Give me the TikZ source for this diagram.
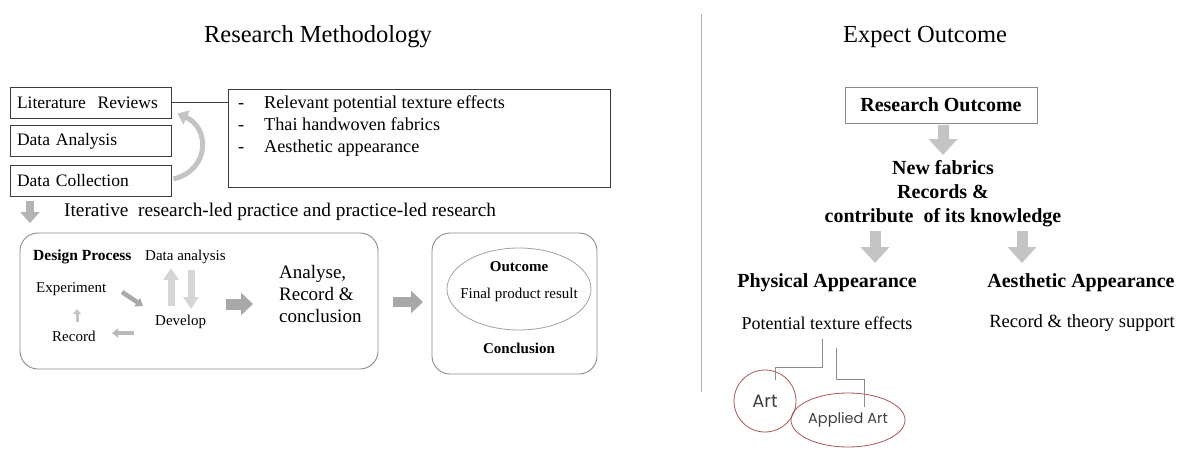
\documentclass[tikz,border=0pt]{standalone}
\usepackage{fontspec}
\setmainfont{Liberation Serif}
\newfontfamily\artfont{Poppins}
\usetikzlibrary{arrows.meta,shapes.geometric,calc}
\definecolor{agray}{HTML}{A8A8A8}
\definecolor{mgray}{HTML}{B4B4B4}
\definecolor{lgray}{HTML}{C4C4C4}
\definecolor{vlgray}{HTML}{D6D6D6}
\definecolor{boxline}{HTML}{3C3C3C}
\definecolor{rbox}{HTML}{8A8A8A}
\definecolor{artred}{HTML}{A85858}
\definecolor{linegray}{HTML}{8C8C8C}
\begin{document}
\begin{tikzpicture}[x=1pt,y=-1pt,
  title/.style={font=\fontsize{24.5}{28}\selectfont},
  body/.style={font=\fontsize{17.5}{21}\selectfont},
  small/.style={font=\fontsize{15}{18}\selectfont, inner sep=0},
  sbox/.style={draw=boxline, line width=0.9, minimum width=161, minimum height=31, text width=147, align=left, inner xsep=7, body},
  rbig/.style={draw=rbox, line width=0.9, rounded corners=18},
  rbold/.style={font=\fontsize{20}{24}\selectfont\bfseries, align=center},
  rreg/.style={font=\fontsize{18}{22}\selectfont},
  garr/.style n args={3}{line width=#1, -{Triangle[length=#2,width=#3]}},
]
\useasboundingbox (0,0) rectangle (1186,448);

% titles and separator
\node[title] (t1) at (318,37) {Research Methodology};
\node[title] (t2) at (925,37) {Expect Outcome};
\coordinate (s1) at (701,14);
\coordinate (s2) at (701,392);
\draw[linegray!70, line width=0.8] (s1) -- (s2);

% left boxes
\node[sbox] (lit) at (90.5,102.5) {Literature\ \ Reviews};
\node[sbox] (da) at (90.5,141) {Data Analysis};
\node[sbox] (dc) at (90.5,181) {Data Collection};
\draw[lgray, garr={5}{10}{15}] ($(dc.east)+(2,-2)$) .. controls (210,170) and (210,128) .. ($(lit.south east)+(6,-5)$);

\node[draw=boxline, line width=0.9, anchor=north west, minimum width=382, minimum height=98, inner sep=0] (bul) at (228,89) {};
\node[anchor=north west, inner sep=0, font=\fontsize{18.2}{22}\selectfont] (bultext) at (238,93)
 {\begin{tabular}{@{}l@{\hspace{20pt}}l@{}}-&Relevant potential texture effects\\-&Thai handwoven fabrics\\-&Aesthetic appearance\end{tabular}};
\draw[boxline, line width=1.2] (lit.east) -- (lit.east -| bul.west);

% iterative
\coordinate (ia1) at (30,201);
\coordinate (ia2) at (30,223);
\draw[mgray, garr={8}{11}{19}] (ia1) -- (ia2);
\node[anchor=west, inner sep=0, font=\fontsize{19.3}{22}\selectfont] (iter) at (64,212) {Iterative\ \ research-led practice and practice-led research};

% design process box
\node[rbig, minimum width=358, minimum height=136] (dp) at (199,301) {};
\node[small, anchor=west, font=\fontsize{15.5}{18}\selectfont\bfseries] (dph) at (33,257) {Design Process};
\node[small, anchor=west] (dan) at (145,257) {Data analysis};
\node[small, anchor=west] (exp) at (36,289) {Experiment};
\node[small, anchor=west] (rec) at (52,336) {Record};
\node[small, anchor=west] (dev) at (155,322) {Develop};
\draw[agray, garr={4.5}{7}{10}] (122,292) -- (143,306);
\draw[lgray, garr={3}{5}{8}] (77,322) -- (77,309);
\draw[agray!80, garr={3.5}{6}{9}] (134,333) -- (112,333);
\draw[vlgray, garr={7}{12}{15}] (171,306) -- (171,268);
\draw[vlgray, garr={7}{12}{15}] (191,270) -- (191,309);
\draw[agray, garr={11}{12}{22}] (226,304) -- (253,304);
\node[anchor=west, align=left, inner sep=0, font=\fontsize{19}{22}\selectfont] (arc) at (279,294) {Analyse,\\Record \&\\conclusion};

% outcome box
\coordinate (oa1) at (393,302);
\coordinate (oa2) at (423,302);
\draw[agray, garr={10}{12}{22}] (oa1) -- (oa2);
\node[rbig, minimum width=165, minimum height=141] (ob) at (514.5,303.5) {};
\node[ellipse, draw=rbox!80, line width=0.8, minimum width=144, minimum height=82] (ell) at (519,289) {};
\node[small, font=\fontsize{15}{18}\selectfont\bfseries] (out) at (519,267) {Outcome};
\node[small] (fpr) at (519,295) {Final product result};
\node[small, font=\fontsize{15}{18}\selectfont\bfseries] (conc) at (519,348) {Conclusion};

% right side
\node[draw=rbox, line width=0.9, minimum width=192, minimum height=36, rbold, inner sep=0] (ro) at (941,105) {Research Outcome};
\coordinate (ra1) at (943,125);
\coordinate (ra2) at (943,155);
\draw[lgray, garr={11}{16}{28}] (ra1) -- (ra2);
\node[rbold, inner sep=0] (nf) at (943,194) {New fabrics\\Records \&\\contribute\ \ of its knowledge};
\coordinate (pa1) at (875,231);
\coordinate (pa2) at (875,263);
\coordinate (aa1) at (1022,231);
\coordinate (aa2) at (1022,263);
\draw[lgray, garr={11}{16}{28}] (pa1) -- (pa2);
\draw[lgray, garr={11}{16}{28}] (aa1) -- (aa2);
\node[rbold, inner sep=0] (pa) at (827,283) {Physical Appearance};
\node[rbold, inner sep=0] (aa) at (1081,283) {Aesthetic Appearance};
\node[rreg, inner sep=0] (pte) at (827,323) {Potential\ texture effects};
\node[rreg, inner sep=0, font=\fontsize{18.6}{22}\selectfont] (rts) at (1082,323) {Record \& theory support};

\node[circle, draw=artred, line width=0.8, minimum size=62, inner sep=0, font=\artfont\fontsize{18}{20}\selectfont, text=black!75] (art) at (765,401) {Art};
\node[ellipse, draw=artred, line width=0.8, minimum width=114, minimum height=54, inner sep=0, font=\artfont\fontsize{14.5}{17}\selectfont, text=black!75] (app) at (848,420) {Applied Art};

\draw[linegray, line width=0.8] ($(pte.south)+(-5,9)$) |- (775,367) -- ($(art.north)+(10,10)$);
\draw[linegray, line width=0.8] ($(pte.south)+(9,18)$) |- (864,379) -- ($(app.north)+(16,14)$);
\end{tikzpicture}
\end{document}
